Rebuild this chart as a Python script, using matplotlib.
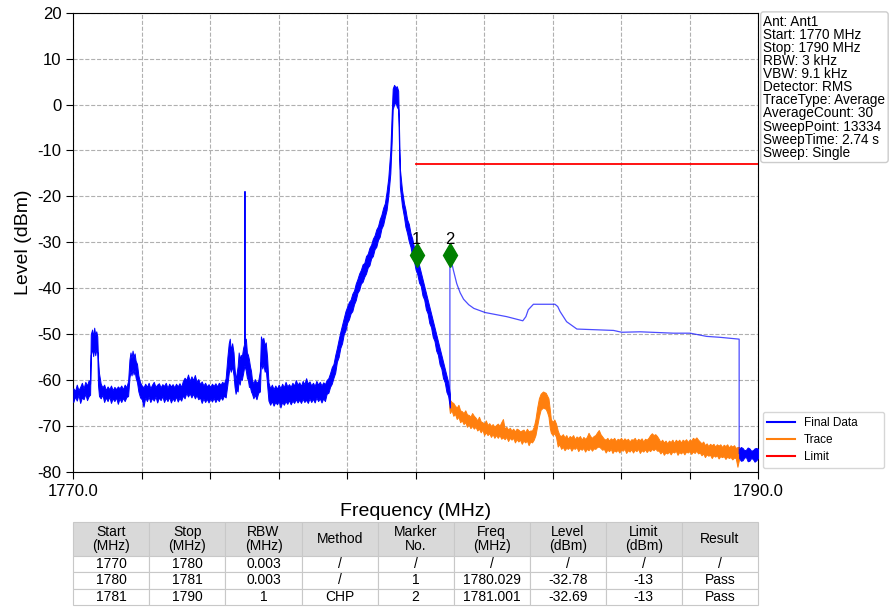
import numpy as np
import matplotlib
matplotlib.use("Agg")
from matplotlib import pyplot as plt
from matplotlib.lines import Line2D

plt.rcParams['font.family'] = ['Liberation Sans', 'DejaVu Sans']
plt.rcParams['axes.unicode_minus'] = False

# final data 1770-1781 MHz (3 kHz RBW): (freq MHz, lower edge dBm, upper edge dBm) of the noisy trace
band_a = [
    (1770.00, -64.8, -61.8), (1770.05, -63.6, -62.4), (1770.10, -64.5, -61.0), (1770.15, -63.2, -62.2),
    (1770.20, -65.0, -61.5), (1770.25, -63.8, -60.6), (1770.30, -64.2, -61.8), (1770.35, -63.0, -60.4),
    (1770.40, -64.4, -61.2), (1770.45, -63.5, -60.0), (1770.49, -63.2, -60.8),
    (1770.51, -54.5, -50.0), (1770.55, -53.2, -49.0), (1770.58, -54.8, -50.6), (1770.61, -53.0, -48.6),
    (1770.64, -54.6, -50.2), (1770.67, -53.4, -49.4), (1770.70, -54.0, -50.5), (1770.72, -61.0, -55.5),
    (1770.75, -63.5, -58.5), (1770.80, -64.0, -60.8), (1770.85, -63.2, -61.6), (1770.90, -64.8, -61.0),
    (1770.95, -63.8, -62.2), (1771.00, -64.6, -61.4), (1771.05, -63.6, -62.0), (1771.10, -65.0, -61.2),
    (1771.15, -64.0, -62.2), (1771.20, -64.6, -61.5), (1771.25, -63.8, -62.0), (1771.30, -65.2, -61.4),
    (1771.35, -64.0, -61.8), (1771.40, -64.8, -61.2), (1771.45, -63.9, -62.0), (1771.50, -64.6, -61.0),
    (1771.55, -63.7, -61.6), (1771.60, -63.5, -60.2), (1771.64, -59.5, -55.5), (1771.67, -58.0, -54.0),
    (1771.70, -59.0, -55.2), (1771.73, -57.6, -53.6), (1771.76, -58.8, -55.0), (1771.79, -57.8, -54.2),
    (1771.82, -59.5, -55.8), (1771.86, -60.5, -56.5), (1771.90, -62.5, -59.0), (1771.95, -63.8, -60.5),
    (1772.00, -64.2, -61.2), (1772.05, -65.8, -61.6), (1772.10, -63.8, -60.8), (1772.15, -64.6, -61.5),
    (1772.20, -63.6, -60.6), (1772.25, -64.8, -61.8), (1772.30, -63.9, -61.0), (1772.35, -64.5, -60.4),
    (1772.40, -63.6, -61.5), (1772.45, -64.9, -61.0), (1772.50, -63.8, -60.7), (1772.55, -64.4, -61.6),
    (1772.60, -63.5, -60.9), (1772.65, -64.8, -61.3), (1772.70, -63.9, -60.6), (1772.75, -64.6, -61.7),
    (1772.80, -63.7, -60.8), (1772.85, -64.9, -61.4), (1772.90, -64.0, -60.9), (1772.95, -64.6, -61.6),
    (1773.00, -63.6, -60.8), (1773.05, -64.7, -61.4), (1773.10, -63.9, -60.7), (1773.15, -64.5, -61.5),
    (1773.20, -63.4, -60.2), (1773.25, -64.0, -59.5), (1773.30, -62.8, -60.0), (1773.35, -63.6, -58.8),
    (1773.40, -62.9, -60.2), (1773.45, -63.8, -59.2), (1773.50, -63.0, -60.0), (1773.55, -64.0, -58.9),
    (1773.60, -63.3, -60.4), (1773.65, -64.2, -59.8), (1773.70, -63.8, -60.9), (1773.75, -65.0, -60.3),
    (1773.80, -64.0, -61.2), (1773.85, -64.8, -60.6), (1773.90, -64.1, -61.4), (1773.95, -64.9, -60.9),
    (1774.00, -64.0, -61.5), (1774.05, -64.7, -60.8), (1774.10, -63.9, -61.3), (1774.15, -64.8, -60.7),
    (1774.20, -64.0, -61.4), (1774.25, -64.6, -60.6), (1774.30, -63.7, -61.0), (1774.35, -64.3, -60.4),
    (1774.40, -63.4, -60.8), (1774.45, -63.8, -59.6), (1774.50, -61.0, -55.0), (1774.54, -58.5, -52.0),
    (1774.57, -57.0, -51.0), (1774.60, -58.2, -53.5), (1774.64, -57.0, -52.0), (1774.68, -59.0, -54.0),
    (1774.71, -61.5, -57.5), (1774.74, -63.0, -60.0), (1774.77, -62.0, -58.5), (1774.80, -62.5, -57.0),
    (1774.83, -60.0, -54.0), (1774.86, -61.0, -55.5), (1774.89, -59.5, -54.5), (1774.92, -60.0, -55.0),
    (1774.96, -58.5, -53.0), (1774.995, -57.0, -52.0), (1775.00, -57.0, -18.8), (1775.005, -57.0, -52.0),
    (1775.04, -58.0, -51.0), (1775.07, -59.5, -54.0), (1775.10, -60.0, -54.5), (1775.13, -61.5, -55.5),
    (1775.16, -61.5, -57.0), (1775.19, -62.5, -58.0), (1775.22, -63.0, -60.0), (1775.26, -64.0, -60.8),
    (1775.30, -63.2, -59.8), (1775.35, -64.2, -60.6), (1775.40, -62.8, -60.2), (1775.45, -62.5, -58.0),
    (1775.48, -56.0, -50.5), (1775.52, -57.5, -51.5), (1775.55, -56.5, -50.8), (1775.59, -58.2, -52.5),
    (1775.62, -57.5, -51.8), (1775.66, -61.0, -55.0), (1775.70, -64.5, -60.5), (1775.75, -65.4, -61.8),
    (1775.80, -64.6, -61.0), (1775.85, -65.6, -62.0), (1775.90, -64.8, -61.2), (1775.95, -65.3, -61.9),
    (1776.00, -64.6, -61.0), (1776.05, -66.0, -61.8), (1776.10, -64.8, -60.8), (1776.15, -65.4, -61.6),
    (1776.20, -64.6, -60.4), (1776.25, -65.2, -61.4), (1776.30, -64.4, -60.9), (1776.35, -65.3, -61.5),
    (1776.40, -64.5, -60.6), (1776.45, -65.0, -61.2), (1776.50, -64.2, -60.0), (1776.55, -64.9, -61.0),
    (1776.60, -64.3, -60.5), (1776.65, -65.0, -61.3), (1776.70, -64.1, -60.2), (1776.75, -64.8, -60.9),
    (1776.80, -64.3, -59.6), (1776.85, -65.0, -60.8), (1776.90, -64.0, -60.3), (1776.95, -64.8, -61.2),
    (1777.00, -64.1, -60.6), (1777.05, -64.9, -61.3), (1777.10, -63.8, -60.2), (1777.15, -64.6, -61.0),
    (1777.20, -64.0, -60.4), (1777.25, -64.9, -61.2), (1777.30, -64.0, -60.5), (1777.35, -64.6, -60.9),
    (1777.40, -63.0, -60.0), (1777.45, -62.8, -59.6), (1777.50, -61.5, -58.5), (1777.55, -60.8, -57.2),
    (1777.60, -59.5, -56.5), (1777.65, -58.4, -54.6), (1777.70, -56.0, -53.0), (1777.75, -55.0, -51.2),
    (1777.80, -53.0, -49.5), (1777.85, -52.0, -48.0), (1777.90, -50.0, -46.5), (1777.95, -49.2, -45.0),
    (1778.00, -47.5, -44.0), (1778.05, -46.8, -43.0), (1778.10, -45.5, -42.5), (1778.15, -45.0, -41.2),
    (1778.20, -43.5, -40.5), (1778.25, -42.6, -39.0), (1778.30, -41.0, -38.0), (1778.35, -40.4, -36.8),
    (1778.40, -39.0, -36.0), (1778.45, -38.6, -34.8), (1778.50, -37.5, -34.5), (1778.55, -36.8, -33.0),
    (1778.60, -35.5, -32.5), (1778.65, -35.0, -31.2), (1778.70, -33.5, -30.5), (1778.75, -33.0, -29.2),
    (1778.80, -31.5, -28.5), (1778.85, -31.0, -27.2), (1778.90, -29.5, -26.5), (1778.95, -28.8, -25.0),
    (1779.00, -27.0, -24.0), (1779.05, -26.2, -22.5), (1779.10, -24.5, -21.5), (1779.15, -23.0, -19.0),
    (1779.20, -20.0, -16.0), (1779.26, -15.0, -10.0), (1779.30, -8.0, -2.0), (1779.33, -1.0, 3.5),
    (1779.37, 0.0, 4.3), (1779.41, 0.5, 3.8), (1779.45, -0.5, 4.0), (1779.49, -1.0, 3.0),
    (1779.54, -18.0, -14.0), (1779.60, -22.0, -18.5), (1779.66, -24.5, -21.5), (1779.70, -26.6, -22.8),
    (1779.75, -28.0, -25.0), (1779.80, -29.8, -26.0), (1779.85, -31.0, -28.0), (1779.90, -33.0, -29.2),
    (1779.95, -34.0, -31.0), (1780.00, -36.0, -32.2), (1780.05, -37.0, -34.0), (1780.10, -38.8, -35.0),
    (1780.15, -39.5, -36.5), (1780.20, -41.6, -38.0), (1780.25, -42.5, -39.5), (1780.30, -44.6, -41.0),
    (1780.35, -45.5, -42.5), (1780.40, -47.6, -44.0), (1780.45, -48.5, -45.5), (1780.50, -50.6, -47.0),
    (1780.55, -51.5, -48.5), (1780.60, -53.6, -50.0), (1780.65, -54.5, -51.5), (1780.70, -56.6, -53.0),
    (1780.75, -57.5, -54.5), (1780.80, -59.6, -56.0), (1780.85, -60.5, -57.5), (1780.90, -62.6, -59.0),
    (1780.95, -63.5, -60.5), (1781.00, -66.0, -63.0),
]

# final data 1781-1790 MHz (1 MHz channel power), single line
fb = [1781.0, 1781.001, 1781.1, 1781.2, 1781.3, 1781.4, 1781.55, 1781.7, 1782.03, 1782.66,
      1783.13, 1783.22, 1783.29, 1783.44, 1784.07, 1784.15, 1784.22, 1784.41, 1784.71, 1785.78,
      1786.02, 1786.56, 1787.53, 1788.02, 1788.50, 1788.89, 1789.45, 1789.451]
lv_b = [-65.0, -32.69, -36.0, -39.0, -41.0, -42.4, -43.6, -44.4, -45.3, -46.2,
        -47.1, -46.2, -44.7, -43.5, -43.5, -44.0, -45.1, -47.3, -48.9, -49.2,
        -49.6, -49.5, -49.8, -49.8, -50.5, -50.7, -51.1, -76.0]

# final data tail past the last channel
band_c = [
    (1789.45, -77.0, -75.0), (1789.50, -77.6, -74.6), (1789.55, -77.5, -74.8), (1789.60, -76.9, -75.3),
    (1789.65, -76.8, -75.2), (1789.70, -77.7, -74.7), (1789.75, -77.6, -74.9), (1789.80, -77.0, -75.4),
    (1789.85, -77.2, -75.3), (1789.90, -77.8, -74.9), (1789.95, -77.5, -74.8), (1790.00, -77.0, -75.0),
]

# raw trace where it shows under the channel power line
band_t = [
    (1780.98, -66.0, -63.0), (1781.00, -67.2, -64.3), (1781.05, -66.6, -64.8), (1781.10, -67.8, -65.0),
    (1781.15, -67.4, -65.6), (1781.20, -68.5, -66.0), (1781.25, -68.0, -65.4), (1781.30, -69.2, -66.6),
    (1781.35, -68.8, -66.8), (1781.40, -69.6, -67.2), (1781.45, -69.2, -66.6), (1781.50, -70.2, -67.5),
    (1781.55, -69.6, -67.6), (1781.60, -70.5, -68.0), (1781.65, -70.0, -67.2), (1781.70, -70.6, -67.8),
    (1781.75, -70.2, -68.2), (1781.80, -71.0, -68.8), (1781.85, -70.6, -68.0), (1781.90, -71.4, -69.0),
    (1781.95, -70.8, -69.2), (1782.00, -72.0, -69.5), (1782.05, -71.4, -68.8), (1782.10, -72.0, -69.8),
    (1782.15, -71.6, -69.4), (1782.20, -72.4, -70.0), (1782.25, -71.8, -69.6), (1782.30, -72.6, -70.2),
    (1782.35, -72.0, -69.8), (1782.40, -72.6, -69.5), (1782.45, -72.0, -70.0), (1782.50, -72.8, -69.2),
    (1782.55, -72.5, -68.5), (1782.60, -72.9, -70.6), (1782.65, -72.4, -70.2), (1782.70, -73.3, -70.8),
    (1782.75, -72.6, -70.4), (1782.80, -73.0, -71.0), (1782.85, -72.6, -70.6), (1782.90, -73.6, -71.2),
    (1782.95, -72.9, -70.6), (1783.00, -73.4, -70.8), (1783.05, -73.0, -71.2), (1783.10, -73.9, -71.0),
    (1783.15, -73.2, -70.8), (1783.20, -73.6, -71.4), (1783.25, -73.2, -70.6), (1783.30, -74.2, -71.2),
    (1783.35, -73.4, -71.0), (1783.40, -73.6, -71.0), (1783.45, -73.0, -70.2), (1783.50, -72.0, -68.5),
    (1783.55, -70.0, -66.0), (1783.60, -68.0, -64.0), (1783.65, -66.5, -63.0), (1783.72, -66.0, -62.5),
    (1783.80, -66.3, -62.8), (1783.84, -67.0, -63.4), (1783.88, -68.0, -64.0), (1783.92, -70.5, -66.5),
    (1783.95, -71.5, -68.5), (1784.00, -72.0, -69.2), (1784.05, -71.6, -68.6), (1784.10, -72.4, -69.5),
    (1784.15, -74.5, -71.0), (1784.20, -74.0, -72.0), (1784.25, -75.0, -72.2), (1784.30, -74.6, -71.8),
    (1784.35, -75.3, -72.5), (1784.40, -74.8, -72.0), (1784.45, -75.0, -72.8), (1784.50, -74.6, -72.2),
    (1784.55, -75.4, -72.5), (1784.60, -74.8, -72.0), (1784.65, -75.0, -72.9), (1784.70, -74.6, -72.3),
    (1784.75, -75.5, -72.6), (1784.80, -74.9, -72.2), (1784.85, -75.2, -73.0), (1784.90, -74.8, -72.4),
    (1784.95, -75.6, -72.8), (1785.00, -75.0, -72.4), (1785.05, -75.3, -71.5), (1785.10, -74.8, -72.2),
    (1785.15, -75.4, -72.6), (1785.20, -74.9, -72.2), (1785.25, -75.0, -72.0), (1785.30, -74.6, -71.4),
    (1785.35, -74.5, -70.9), (1785.40, -74.8, -71.8), (1785.45, -75.2, -72.3), (1785.50, -75.0, -72.8),
    (1785.55, -75.8, -73.0), (1785.60, -75.2, -72.6), (1785.65, -75.5, -73.2), (1785.70, -75.0, -72.7),
    (1785.75, -75.9, -73.0), (1785.80, -75.3, -72.6), (1785.85, -75.6, -73.3), (1785.90, -75.2, -72.8),
    (1785.95, -75.8, -73.0), (1786.00, -75.2, -72.6), (1786.05, -75.4, -73.2), (1786.10, -75.0, -72.7),
    (1786.15, -75.9, -73.1), (1786.20, -75.3, -72.8), (1786.25, -75.6, -73.4), (1786.30, -75.1, -72.9),
    (1786.35, -75.8, -73.0), (1786.40, -75.2, -72.6), (1786.45, -75.5, -73.3), (1786.50, -75.0, -72.8),
    (1786.55, -75.9, -73.1), (1786.60, -75.3, -72.7), (1786.65, -75.6, -73.4), (1786.70, -75.1, -72.8),
    (1786.75, -75.7, -73.0), (1786.80, -75.2, -72.6), (1786.85, -75.5, -72.0), (1786.90, -75.0, -71.6),
    (1786.95, -75.3, -72.0), (1787.00, -74.9, -71.8), (1787.05, -75.4, -72.2), (1787.10, -75.4, -72.8),
    (1787.15, -76.0, -73.5), (1787.20, -75.5, -73.0), (1787.25, -76.3, -73.6), (1787.30, -75.8, -73.2),
    (1787.35, -76.0, -73.8), (1787.40, -75.6, -73.2), (1787.45, -76.2, -73.5), (1787.50, -75.6, -73.0),
    (1787.55, -75.8, -73.7), (1787.60, -75.4, -73.0), (1787.65, -76.3, -73.4), (1787.70, -75.7, -73.0),
    (1787.75, -76.0, -73.6), (1787.80, -75.6, -73.0), (1787.85, -76.2, -73.3), (1787.90, -75.6, -72.9),
    (1787.95, -75.8, -73.5), (1788.00, -75.5, -73.0), (1788.05, -76.1, -73.2), (1788.10, -75.6, -72.6),
    (1788.15, -75.9, -72.9), (1788.20, -75.4, -72.5), (1788.25, -76.0, -73.0), (1788.30, -75.8, -73.4),
    (1788.35, -76.4, -73.8), (1788.40, -76.0, -73.4), (1788.45, -76.8, -74.2), (1788.50, -76.2, -73.8),
    (1788.55, -76.5, -74.4), (1788.60, -76.3, -73.9), (1788.65, -77.0, -74.2), (1788.70, -76.4, -73.9),
    (1788.75, -76.7, -74.5), (1788.80, -76.4, -74.0), (1788.85, -77.1, -74.3), (1788.90, -76.6, -74.0),
    (1788.95, -76.8, -74.6), (1789.00, -76.6, -74.1), (1789.05, -77.2, -74.4), (1789.10, -76.7, -74.0),
    (1789.15, -77.0, -74.7), (1789.20, -76.8, -74.2), (1789.25, -77.3, -74.5), (1789.30, -76.9, -74.2),
    (1789.35, -77.0, -74.8), (1789.40, -78.9, -74.6), (1789.45, -77.2, -74.6),
]

limit_f = [1780.0, 1790.0]
limit_lv = [-13, -13]

# measurement table
col_labels = ["Start\n(MHz)", "Stop\n(MHz)", "RBW\n(MHz)", "Method", "Marker\nNo.",
              "Freq\n(MHz)", "Level\n(dBm)", "Limit\n(dBm)", "Result"]
starts = ["1770", "1780", "1781"]
stops = ["1780", "1781", "1790"]
rbws = ["0.003", "0.003", "1"]
methods = ["/", "/", "CHP"]
marker_no = ["/", "1", "2"]
marker_freq = ["/", "1780.029", "1781.001"]
marker_level = ["/", "-32.78", "-32.69"]
limits = ["/", "-13", "-13"]
results = ["/", "Pass", "Pass"]

info_lines = ["Ant: Ant1", "Start: 1770 MHz", "Stop: 1790 MHz", "RBW: 3 kHz", "VBW: 9.1 kHz",
              "Detector: RMS", "TraceType: Average", "AverageCount: 30", "SweepPoint: 13334",
              "SweepTime: 2.74 s", "Sweep: Single"]

BLUE = '#0000ff'
ORANGE = '#ff7f0e'


def draw_band(ax, rows, color, z):
    f, lo, hi = zip(*rows)
    ax.fill_between(f, lo, hi, facecolor=color, edgecolor=color, linewidth=0.7, zorder=z)


fig = plt.figure(figsize=(8.91, 6.08), dpi=100)
ax = fig.add_axes([0.0823, 0.224, 0.7684, 0.755])

# trace first, final data on top of it
draw_band(ax, band_t, ORANGE, 2)
draw_band(ax, band_a, BLUE, 3)
ax.plot(fb, lv_b, color=BLUE, lw=0.9, alpha=0.7, zorder=3)
draw_band(ax, band_c, BLUE, 3)
ax.plot(limit_f, limit_lv, color='#ff0000', lw=1.3, zorder=4)

# markers
for i in range(1, len(marker_no)):
    mf = float(marker_freq[i])
    ml = float(marker_level[i])
    ax.plot(mf, ml, marker='d', color='green', markersize=12, zorder=5)
    ax.text(mf, ml + 1.7, marker_no[i], ha='center', va='bottom', fontsize=12, zorder=5)

ax.set_xlim(1770, 1790)
ax.set_ylim(-80, 20)
ax.set_xticks(np.arange(1770, 1791, 2))
ax.set_xticklabels(["1770.0"] + [""] * 9 + ["1790.0"])
ax.set_yticks(np.arange(-80, 21, 10))
ax.tick_params(labelsize=12, length=5)
ax.grid(True, linestyle='--', color='#b0b0b0', lw=0.8)
ax.set_axisbelow(True)
ax.set_xlabel("Frequency (MHz)", fontsize=14, labelpad=3)
ax.set_ylabel("Level (dBm)", fontsize=14, labelpad=4)

ax.text(1.008, 0.996, "\n".join(info_lines), transform=ax.transAxes, ha='left', va='top',
        fontsize=9.8, linespacing=0.92,
        bbox=dict(boxstyle='round,pad=0.2', facecolor='white', edgecolor='#cccccc'))

handles = [Line2D([], [], color=BLUE, lw=1.5), Line2D([], [], color=ORANGE, lw=1.5),
           Line2D([], [], color='#ff0000', lw=1.5)]
ax.legend(handles, ["Final Data", "Trace", "Limit"], loc='lower left',
          bbox_to_anchor=(1.007, 0.008, 0.177, 0.12), mode='expand',
          fontsize=8.5, frameon=True, edgecolor='#cccccc', handlelength=2.3, borderaxespad=0,
          labelspacing=0.45)

cells = [list(r) for r in zip(starts, stops, rbws, methods, marker_no, marker_freq,
                              marker_level, limits, results)]
tb = ax.table(cellText=cells, colLabels=col_labels, cellLoc='center',
              bbox=[0, -0.29, 1, 0.181])
tb.auto_set_font_size(False)
for (r, c), cell in tb.get_celld().items():
    cell.set_edgecolor('#c8c8c8')
    cell.set_linewidth(0.8)
    cell.get_text().set_fontsize(10)
    if r == 0:
        cell.set_facecolor('#d9d9d9')
        cell.set_height(0.41)
        cell.get_text().set_linespacing(1.0)
    else:
        cell.set_height(0.197)

fig.savefig("out.png", dpi=100)
